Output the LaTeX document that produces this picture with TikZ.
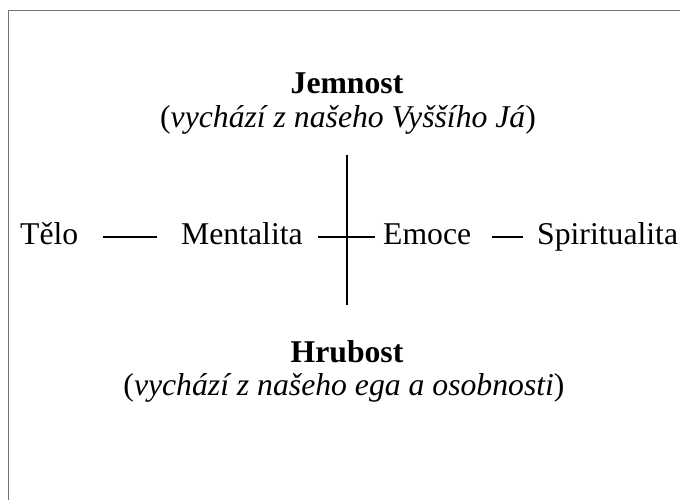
\documentclass[tikz,border=0pt]{standalone}
\usepackage{fontspec}
\setmainfont{Liberation Serif}
\begin{document}
\begin{tikzpicture}[x=1pt,y=-1pt,
  lbl/.style={inner sep=0pt,font=\fontsize{31.7}{36}\selectfont},
  conn/.style={line width=2pt,black}]
\useasboundingbox (0,0) rectangle (680,499);
\clip (0,0) rectangle (680,499);
\draw[gray!90!black,line width=1pt] (8,10) rectangle (700,520);
% titles
\node[lbl,anchor=base] (jem) at (347,93) {\bfseries Jemnost};
\node[lbl,anchor=base] (jemsub) at (348,127) {(\textit{vychází z našeho Vyššího Já})};
\node[lbl,anchor=base] (hru) at (347,362) {\bfseries Hrubost};
\node[lbl,anchor=base] (hrusub) at (344,395) {(\textit{vychází z našeho ega a osobnosti})};
% row
\node[lbl,anchor=base west] (telo) at (20,244) {Tělo};
\node[lbl,anchor=base west] (ment) at (181,244) {Mentalita};
\node[lbl,anchor=base west] (emo) at (383,244) {Emoce};
\node[lbl,anchor=base west] (spir) at (537,244) {Spiritualita};
% cross
\coordinate (vtop) at (347,155);
\coordinate (vbot) at (347,305);
\draw[conn] (vtop) -- (vbot);
\draw[conn] ([xshift=25pt,yshift=7pt]telo.base east) -- ([xshift=-24pt,yshift=7pt]ment.base west);
\draw[conn] ([xshift=15pt,yshift=7pt]ment.base east) -- ([xshift=-8pt,yshift=7pt]emo.base west);
\draw[conn] ([xshift=21pt,yshift=7pt]emo.base east) -- ([xshift=-14pt,yshift=7pt]spir.base west);
\end{tikzpicture}
\end{document}
